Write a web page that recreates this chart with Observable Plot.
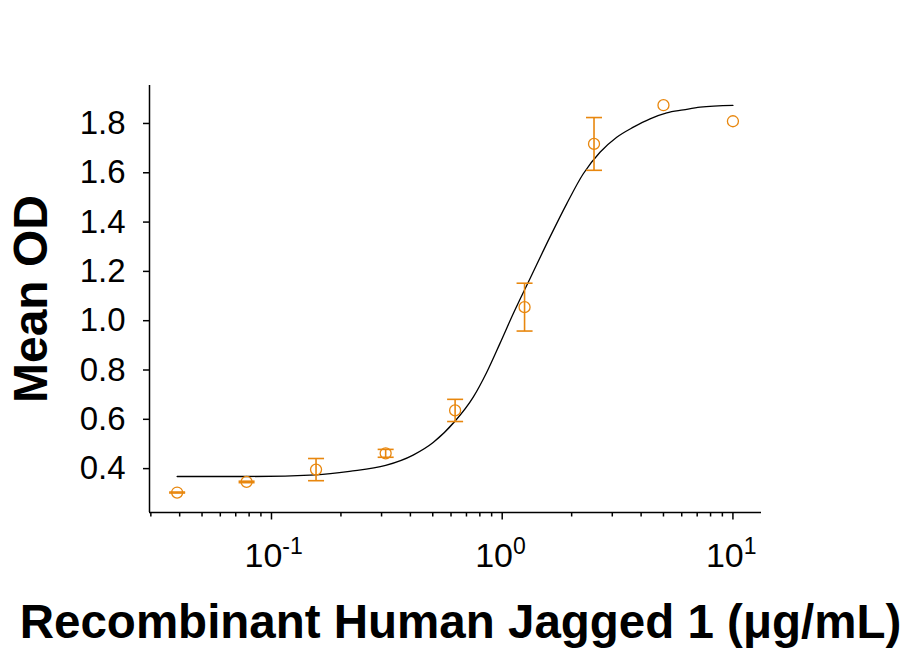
<!DOCTYPE html>
<html>
<head>
<meta charset="utf-8">
<script src="https://cdn.jsdelivr.net/npm/d3@7"></script>
<script src="https://cdn.jsdelivr.net/npm/@observablehq/plot@0.6"></script>
<style>
  html, body { margin: 0; padding: 0; background: #fff; }
  #wrap { position: relative; width: 907px; height: 653px; overflow: hidden; font-family: "Liberation Sans", Arial, sans-serif; }
  #xtitle { position: absolute; left: 16px; width: 889px; text-align: center; top: 598px; font-size: 47.5px; font-weight: bold; line-height: 48px; white-space: nowrap; color: #000; }
</style>
</head>
<body>
<div id="wrap"><div id="chart"></div><div id="xtitle">Recombinant Human Jagged 1 (μg/mL)</div></div>
<script>
// Data
const concentration = [0.039, 0.078, 0.156, 0.3125, 0.625, 1.25, 2.5, 5, 10];
const meanOD        = [0.303, 0.346, 0.396, 0.462, 0.636, 1.055, 1.717, 1.874, 1.809];
const errOD         = [0.002, 0.003, 0.045, 0.016, 0.045, 0.097, 0.107, 0, 0];

// Fitted curve
const curveConc = [0.039, 0.078, 0.156, 0.218, 0.3125, 0.411, 0.502, 0.624, 0.749, 0.856, 0.977, 1.116, 1.319, 1.61, 1.903, 2.246, 2.654, 3.136, 3.702, 4.374, 5.167, 6.1, 7.208, 10];
const curveOD   = [0.368, 0.368, 0.375, 0.389, 0.413, 0.455, 0.506, 0.592, 0.690, 0.790, 0.907, 1.028, 1.170, 1.339, 1.474, 1.596, 1.683, 1.744, 1.785, 1.819, 1.843, 1.855, 1.866, 1.873];

const yTicks = [0.4, 0.6, 0.8, 1.0, 1.2, 1.4, 1.6, 1.8];
const xMajorTicks = [0.1, 1, 10];
const xMinorTicks = [0.03,0.04,0.05,0.06,0.07,0.08,0.09,0.2,0.3,0.4,0.5,0.6,0.7,0.8,0.9,2,3,4,5,6,7,8,9];
const xDomain = [0.0296, 13.3];
const yDomain = [0.222, 1.954];

const orange = "#E8870E";
const points = concentration.map((c, i) => ({c, od: meanOD[i], lo: meanOD[i] - errOD[i], hi: meanOD[i] + errOD[i], e: errOD[i]}));
const bars = points.filter(d => d.e > 0);
const curve = curveConc.map((c, i) => ({c, od: curveOD[i]}));

const capSymbol = { draw(ctx) { ctx.moveTo(-8, 0); ctx.lineTo(8, 0); } };

const chart = Plot.plot({
  width: 907,
  height: 590,
  marginLeft: 149,
  marginRight: 146,
  marginTop: 85,
  marginBottom: 78,
  style: { fontFamily: "'Liberation Sans', Arial, sans-serif", fontSize: "33px", color: "#000", background: "#fff", overflow: "visible" },
  x: { type: "log", domain: xDomain },
  y: { domain: yDomain },
  marks: [
    Plot.axisY({ ticks: yTicks, tickSize: 6, tickPadding: 18, tickFormat: d3.format(".1f"), label: null, fontSize: 33, strokeWidth: 1.5 }),
    Plot.axisX({ ticks: xMinorTicks, tickSize: 4.5, tickFormat: () => "", label: null, strokeWidth: 1.5 }),
    Plot.axisX({ ticks: xMajorTicks, tickSize: 7.5, tickPadding: 23, tickFormat: d => "10^" + Math.round(Math.log10(d)), label: null, fontSize: 34, strokeWidth: 1.5 }),
    Plot.ruleX([xDomain[0]], { stroke: "#000", strokeWidth: 1.5 }),
    Plot.ruleY([yDomain[0]], { stroke: "#000", strokeWidth: 1.5 }),
    Plot.line(curve, { x: "c", y: "od", stroke: "#000", strokeWidth: 1.3, curve: "monotone-x" }),
    Plot.link(bars, { x1: "c", x2: "c", y1: "lo", y2: "hi", stroke: orange, strokeWidth: 1.6 }),
    Plot.dot(bars, { x: "c", y: "hi", symbol: capSymbol, stroke: orange, strokeWidth: 1.6 }),
    Plot.dot(bars, { x: "c", y: "lo", symbol: capSymbol, stroke: orange, strokeWidth: 1.6 }),
    Plot.dot(points, { x: "c", y: "od", r: 5.5, stroke: orange, strokeWidth: 1.3, fill: "none" }),
    Plot.text(["Mean OD"], { frameAnchor: "left", textAnchor: "middle", rotate: -90, dx: -118, fontSize: 48, fontWeight: "bold", fill: "#000" })
  ]
});

// Render exponents as superscripts
chart.querySelectorAll("text").forEach(t => {
  const s = t.textContent;
  if (s.includes("^")) {
    const [base, exp] = s.split("^");
    t.textContent = "";
    const ns = "http://www.w3.org/2000/svg";
    const b = document.createElementNS(ns, "tspan");
    b.textContent = base;
    const e = document.createElementNS(ns, "tspan");
    e.textContent = exp;
    e.setAttribute("dy", "-13");
    e.setAttribute("font-size", "23");
    t.appendChild(b); t.appendChild(e);
    t.setAttribute("text-anchor", "start");
    t.setAttribute("dx", "-27");
  }
});
document.getElementById("chart").appendChild(chart);
</script>
</body>
</html>
